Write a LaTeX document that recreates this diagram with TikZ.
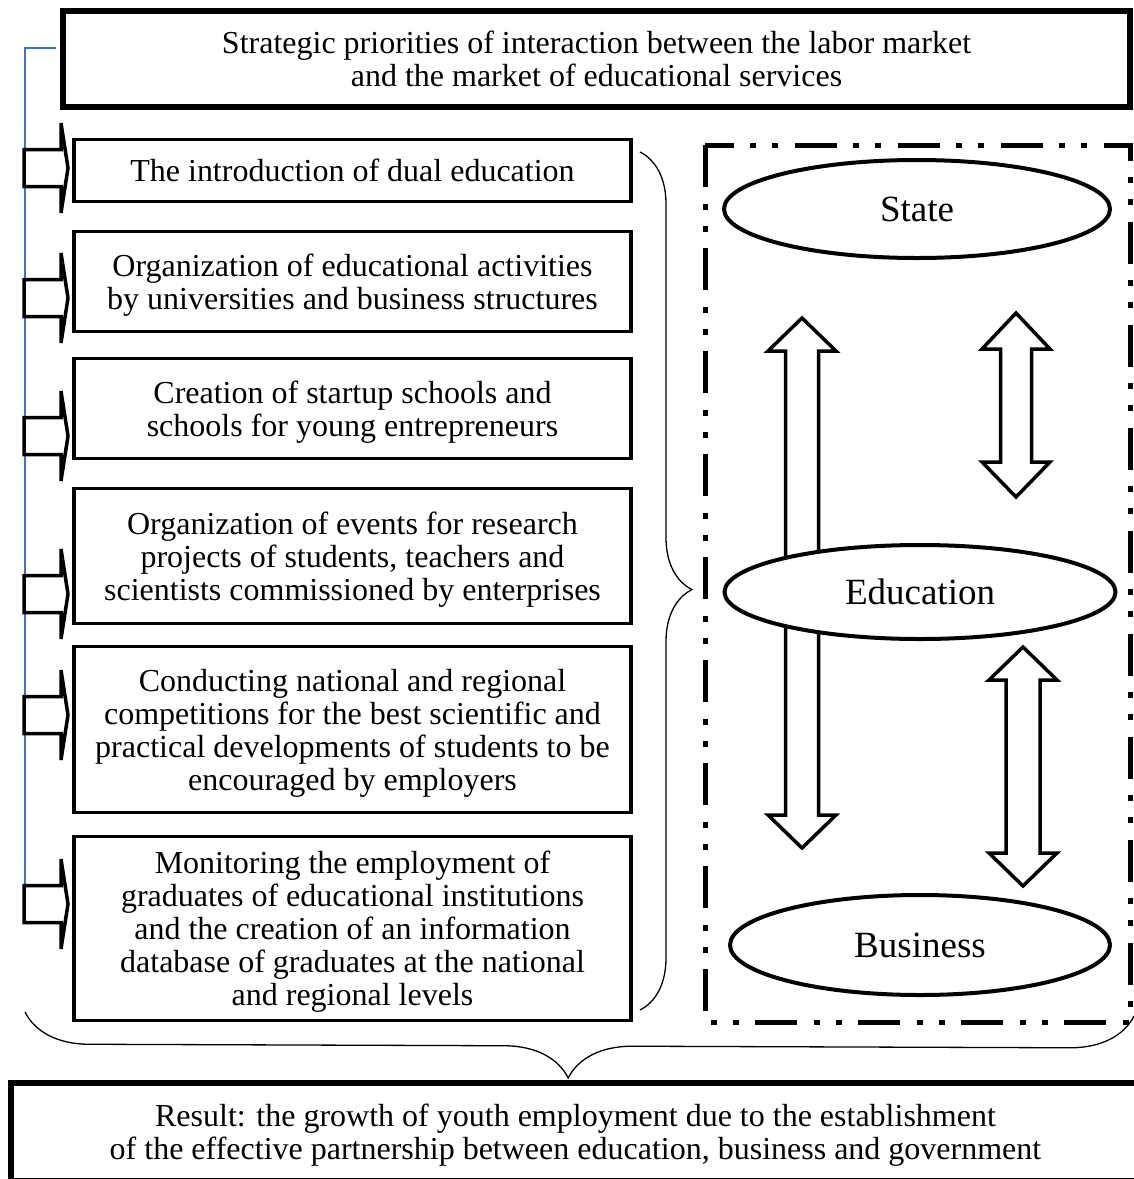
\documentclass[tikz,border=0pt]{standalone}
\usepackage{fontspec}
\setmainfont{Liberation Serif}
\usetikzlibrary{decorations.pathreplacing,shapes.geometric}
\definecolor{linkblue}{RGB}{68,114,196}

\begin{document}
\begin{tikzpicture}[x=1pt,y=-1pt,
    itembox/.style={draw, line width=3.5pt, fill=white, minimum width=557pt, inner sep=0pt, text depth=0pt, align=center, font=\fontsize{32}{33}\selectfont},
    bigbox/.style={draw, line width=6.5pt, fill=white, inner sep=0pt, text depth=0pt, align=center, font=\fontsize{32}{33}\selectfont},
    actor/.style={draw, ellipse, line width=4pt, fill=white, inner sep=0pt, font=\fontsize{37}{37}\selectfont},
    blockarrow/.style={draw, line width=3.5pt, fill=white, line join=miter},
    bracket/.style={decorate, line width=1.3pt}]

    \useasboundingbox (0,0) rectangle (1134,1179);

    % Dash-dot frame round the partners
    \draw[line width=5pt, dash pattern=on 42pt off 17pt on 6pt off 16pt on 6pt off 16pt] (705,145) rectangle (1130,1022);

    % Links between the partners
    \draw[blockarrow] (802,318) -- (836,351) -- (818.5,351) -- (818.5,815) -- (836,815) -- (802,848)
        -- (768,815) -- (785.5,815) -- (785.5,351) -- (768,351) -- cycle;
    \draw[blockarrow] (1016,313) -- (1050,349) -- (1031.5,349) -- (1031.5,462) -- (1050,462) -- (1016,497)
        -- (982,462) -- (1000.5,462) -- (1000.5,349) -- (982,349) -- cycle;
    \draw[blockarrow] (1023,647) -- (1057,680) -- (1040,680) -- (1040,853) -- (1057,853) -- (1023,886)
        -- (989,853) -- (1006,853) -- (1006,680) -- (989,680) -- cycle;

    % Partners
    \node[actor, minimum width=386pt, minimum height=98pt] (state) at (917,209) {State};
    \node[actor, minimum width=391pt, minimum height=94pt] (education) at (920,592) {Education};
    \node[actor, minimum width=380pt, minimum height=100pt] (business) at (920,945) {Business};

    % Blue bus line
    \coordinate (busTop) at (25,48);
    \coordinate (busEnd) at (25,886);

    % Header and result
    \node[bigbox, minimum width=1067pt, minimum height=96pt] (priorities) at (596.5,59)
        {Strategic priorities of interaction between the labor market\\and the market of educational services};
    \node[bigbox, minimum width=1129pt, minimum height=98pt] (result) at (575.5,1132)
        {Result: the growth of youth employment due to the establishment\\of the effective partnership between education, business and government};

    \draw[linkblue, line width=1.3pt, shorten <=3.5pt] (priorities.west |- busTop) -- (busTop) -- (busEnd);

    % Priorities
    \node[itembox, minimum height=62pt] (dual) at (352.5,170.5) {The introduction of dual education};
    \node[itembox, minimum height=100pt] (joint) at (352.5,281.5)
        {Organization of educational activities\\by universities and business structures};
    \node[itembox, minimum height=100pt] (startup) at (352.5,408.5)
        {Creation of startup schools and\\schools for young entrepreneurs};
    \node[itembox, minimum height=135pt] (research) at (352.5,556)
        {Organization of events for research\\projects of students, teachers and\\scientists commissioned by enterprises};
    \node[itembox, minimum height=166pt] (contests) at (352.5,729.5)
        {Conducting national and regional\\competitions for the best scientific and\\practical developments of students to be\\encouraged by employers};
    \node[itembox, minimum height=184pt] (monitor) at (352.5,928.5)
        {Monitoring the employment of\\graduates of educational institutions\\and the creation of an information\\database of graduates at the national\\and regional levels};

    % Arrows from the bus line
    \foreach \y in {168,298,436,594,715,904}
        \draw[blockarrow] (24,\y-18.5) -- (61,\y-18.5) -- (61,\y-45) -- (68,\y) -- (61,\y+45) -- (61,\y+18.5) -- (24,\y+18.5) -- cycle;

    % Braces
    \draw[bracket, decoration={brace, amplitude=52pt, aspect=0.51}] (640,152) -- (640,1010);
    \draw[bracket, decoration={brace, amplitude=64pt, aspect=0.51}] (1134,1016) -- (25,1012);

\end{tikzpicture}
\end{document}
